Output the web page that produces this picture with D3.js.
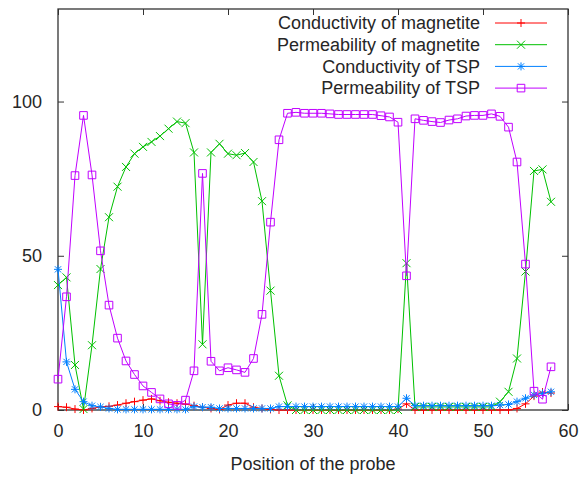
<!DOCTYPE html>
<html>
<head>
<meta charset="utf-8">
<script src="https://cdn.jsdelivr.net/npm/d3@7"></script>
<style>
	body { margin: 0; background: #fff; }
	text { font-family: "Liberation Sans", Arial, sans-serif; }
</style>
</head>
<body>
<div id="chart"></div>
<script>
'use strict';

// probe positions along the sample
const positions = [
	0, 1, 2, 3, 4, 5, 6, 7, 8, 9, 10, 11, 12, 13, 14, 15, 16, 17, 18, 19,
	20, 21, 22, 23, 24, 25, 26, 27, 28, 29, 30, 31, 32, 33, 34, 35, 36, 37, 38, 39,
	40, 41, 42, 43, 44, 45, 46, 47, 48, 49, 50, 51, 52, 53, 54, 55, 56, 57, 58 ];

const condMagnetite = [
	1.1, 0.9, 0.3, 0, 0.5, 1, 1.2, 1.6, 2.2, 2.7, 3.2, 3.6, 3, 2.5, 2.2, 1.9, 1.4, 0.9, 0.5, 0.2,
	1.6, 2.2, 2.2, 0.9, 0.5, 0.2, 0, 0, 0, 0, 0, 0, 0, 0, 0, 0, 0, 0, 0, 0,
	0.3, 2, 0, 0, 0, 0, 0, 0, 0, 0, 0, 0, 0, 0, 0.5, 2, 4.5, 5.8, 5.5 ];

const permMagnetite = [
	40.5, 43, 14.6, 0.3, 21, 45.7, 62.5, 72.4, 78.8, 83.1, 85.3, 86.9, 88.8, 91.2, 93.5, 93, 83.5, 21.3, 83.5, 86.3,
	83.1, 82.6, 83.3, 80.4, 67.7, 38.7, 11.1, 1.5, 0, 0, 0, 0, 0, 0, 0, 0, 0, 0, 0, 0,
	0, 47.6, 1, 1, 1, 1, 1, 1, 1, 1, 1, 1, 2.7, 5.9, 16.7, 44.9, 77.5, 78, 67.5 ];

const condTSP = [
	45.6, 15.6, 6.7, 2.7, 1.4, 1, 0.5, 0.2, 0.2, 0.2, 0.2, 0.2, 0.2, 0.2, 0.2, 0.2, 1.1, 0.9, 0.9, 0.5,
	0.5, 0.5, 0.5, 0.5, 0.5, 0.5, 1.1, 1.1, 1.1, 1.1, 1.1, 1.1, 1.1, 1.1, 1.1, 1.1, 1.1, 1.1, 1.1, 1.1,
	1.1, 3.8, 1.4, 1.4, 1.4, 1.4, 1.4, 1.4, 1.4, 1.4, 1.4, 1.4, 1.6, 1.8, 2.7, 3.8, 4.9, 5.4, 5.9 ];

const permTSP = [
	10, 36.7, 76, 95.5, 76.2, 51.6, 34, 23.3, 15.9, 11.5, 7.8, 5.7, 3.6, 2, 1.5, 3.2, 12.7, 76.7, 15.8, 12.7,
	13.7, 13, 12.2, 16.7, 31, 60.9, 87.6, 96.2, 96.5, 96.2, 96.2, 96.2, 96, 95.8, 95.8, 95.8, 95.8, 95.8, 95.4, 95,
	93.3, 43.5, 94.4, 93.9, 93.5, 93.2, 94, 94.4, 95.3, 95.5, 95.5, 96, 95.2, 91.7, 80.4, 47.3, 6.1, 3.5, 14 ];

const xTicks = [0, 10, 20, 30, 40, 50, 60];
const yTicks = [0, 50, 100];

const series = [
	{ name: "Conductivity of magnetite", values: condMagnetite, color: "#ff0000", point: "plus" },
	{ name: "Permeability of magnetite", values: permMagnetite, color: "#00c000", point: "cross" },
	{ name: "Conductivity of TSP", values: condTSP, color: "#0080ff", point: "star" },
	{ name: "Permeability of TSP", values: permTSP, color: "#c000ff", point: "square" } ];

const width = 579;
const height = 477;
const margin = { top: 9, right: 11, bottom: 67, left: 58 };
const innerW = width - margin.left - margin.right;
const innerH = height - margin.top - margin.bottom;

const svg = d3.select("#chart")
	.append("svg")
		.attr("width", width)
		.attr("height", height)
	;

const bounds = svg.append("g")
	.attr("transform", `translate(${margin.left},${margin.top})`)
	;

const xScale = d3.scaleLinear()
	.domain([0, 60])
	.range([0, innerW])
	;

const yScale = d3.scaleLinear()
	.domain([0, 130])
	.range([innerH, 0])
	;

// gnuplot style point glyphs, drawn as paths around 0,0
function glyph(type) {
	const p = d3.path();
	const r = 4;
	if (type === "plus" || type === "star") {
		p.moveTo(-r, 0); p.lineTo(r, 0);
		p.moveTo(0, -r); p.lineTo(0, r);
	}
	if (type === "cross" || type === "star") {
		const c = type === "star" ? 3.1 : 4;
		p.moveTo(-c, -c); p.lineTo(c, c);
		p.moveTo(-c, c); p.lineTo(c, -c);
	}
	if (type === "square") {
		p.rect(-3.8, -3.8, 7.6, 7.6);
	}
	return p.toString();
}

// axes (ticks inward, mirrored on top / right)
const tickLen = 6;
const axisColor = "#333";
const textColor = "#262626";

const xBottom = bounds.append("g")
	.attr("transform", `translate(0,${innerH})`)
	.call(d3.axisBottom(xScale).tickValues(xTicks).tickSize(-tickLen).tickPadding(14))
	;
const xTop = bounds.append("g")
	.call(d3.axisTop(xScale).tickValues(xTicks).tickSize(-tickLen).tickFormat(""))
	;
const yLeft = bounds.append("g")
	.call(d3.axisLeft(yScale).tickValues(yTicks).tickSize(-tickLen).tickPadding(16))
	;
const yRight = bounds.append("g")
	.attr("transform", `translate(${innerW},0)`)
	.call(d3.axisRight(yScale).tickValues(yTicks).tickSize(-tickLen).tickFormat(""))
	;

[xBottom, xTop, yLeft, yRight].forEach(a => {
	a.select(".domain").remove();
	a.selectAll("line").attr("stroke", axisColor);
	a.selectAll("text")
		.attr("fill", textColor)
		.attr("font-size", 18)
		.style("font-family", "'Liberation Sans', Arial, sans-serif")
		;
});

bounds.append("rect")
	.attr("x", 0)
	.attr("y", 0)
	.attr("width", innerW)
	.attr("height", innerH)
	.attr("fill", "none")
	.attr("stroke", axisColor)
	.attr("stroke-width", 1.3)
	;

// x axis label
svg.append("text")
	.attr("x", margin.left + innerW / 2)
	.attr("y", 470)
	.attr("text-anchor", "middle")
	.attr("font-size", 18)
	.attr("fill", textColor)
	.text("Position of the probe")
	;

// series
const lineGen = (vals) => d3.line()
	.x((d, i) => xScale(positions[i]))
	.y(d => yScale(d))
	(vals)
	;

series.forEach(s => {
	const g = bounds.append("g");
	g.append("path")
		.attr("d", lineGen(s.values))
		.attr("fill", "none")
		.attr("stroke", s.color)
		.attr("stroke-width", 1)
		;
	g.selectAll("path.pt")
		.data(s.values)
		.join("path")
			.attr("class", "pt")
			.attr("transform", (d, i) => `translate(${xScale(positions[i])},${yScale(d)})`)
			.attr("d", glyph(s.point))
			.attr("fill", "none")
			.attr("stroke", s.color)
			.attr("stroke-width", 1)
		;
});

// legend, top right
const legend = svg.append("g");
series.forEach((s, i) => {
	const y = 23 + i * 21.7;
	legend.append("text")
		.attr("x", 480)
		.attr("y", y)
		.attr("dy", "0.35em")
		.attr("text-anchor", "end")
		.attr("font-size", 18)
		.attr("fill", textColor)
		.text(s.name)
		;
	legend.append("line")
		.attr("x1", 495)
		.attr("x2", 547)
		.attr("y1", y)
		.attr("y2", y)
		.attr("stroke", s.color)
		.attr("stroke-width", 1)
		;
	legend.append("path")
		.attr("transform", `translate(521,${y})`)
		.attr("d", glyph(s.point))
		.attr("fill", "none")
		.attr("stroke", s.color)
		;
});
</script>
</body>
</html>
